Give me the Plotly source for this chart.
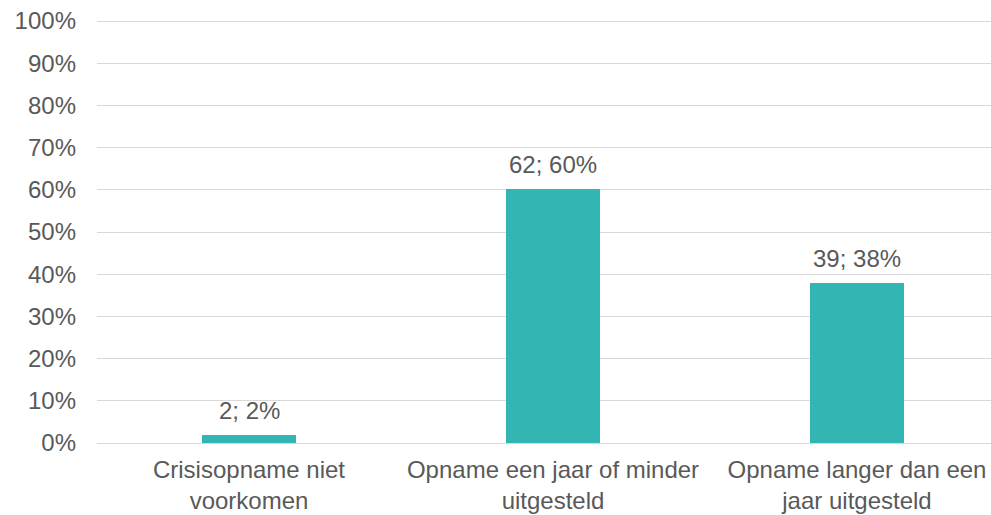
import plotly.graph_objects as go

categories = ["Crisisopname niet<br>voorkomen",
              "Opname een jaar of minder<br>uitgesteld",
              "Opname langer dan een<br>jaar uitgesteld"]
counts = [2, 62, 39]
percentages = [1.9, 60.2, 37.9]
bar_labels = ["2; 2%", "62; 60%", "39; 38%"]
y_tickvals = [0, 10, 20, 30, 40, 50, 60, 70, 80, 90, 100]
y_ticktext = ["0%", "10%", "20%", "30%", "40%", "50%", "60%", "70%", "80%", "90%", "100%"]

font_color = "#595959"
font_family = "Liberation Sans, Arial, sans-serif"
fs = 24

x_pos = list(range(len(categories)))

fig = go.Figure(go.Bar(
    x=x_pos,
    y=percentages,
    width=0.311,
    marker=dict(color="#33B5B3", line=dict(width=0)),
    hoverinfo="skip",
))

for xi, yi, lab in zip(x_pos, percentages, bar_labels):
    fig.add_annotation(
        x=xi, y=yi, text=lab, showarrow=False,
        xanchor="center", yanchor="bottom", yshift=9,
        font=dict(size=fs, color=font_color, family=font_family),
    )

fig.update_layout(
    width=991, height=515,
    margin=dict(l=97, r=0, t=19, b=72, autoexpand=False),
    paper_bgcolor="white", plot_bgcolor="white",
    font=dict(family=font_family, size=fs, color=font_color),
    showlegend=False,
    bargap=0,
)
fig.update_xaxes(
    range=[-0.5, -0.5 + 894 / 304],
    tickvals=x_pos, ticktext=categories,
    showgrid=False, zeroline=False, showline=False,
    ticks="", tickfont=dict(size=fs, color=font_color),
    ticklabelstandoff=10,
    automargin=False,
    fixedrange=True,
)
fig.update_yaxes(
    range=[0, 100 * 424 / 422],
    tickvals=y_tickvals, ticktext=y_ticktext,
    showgrid=True, gridcolor="#D9D9D9", gridwidth=1.3,
    zeroline=True, zerolinecolor="#D9D9D9", zerolinewidth=1.3,
    showline=False, ticks="",
    ticklabelstandoff=20,
    tickfont=dict(size=fs, color=font_color),
    automargin=False,
    fixedrange=True,
)

fig.write_html("out.html", config={"displayModeBar": False},
               post_script="document.body.style.margin='0px';document.body.style.overflow='hidden';")
